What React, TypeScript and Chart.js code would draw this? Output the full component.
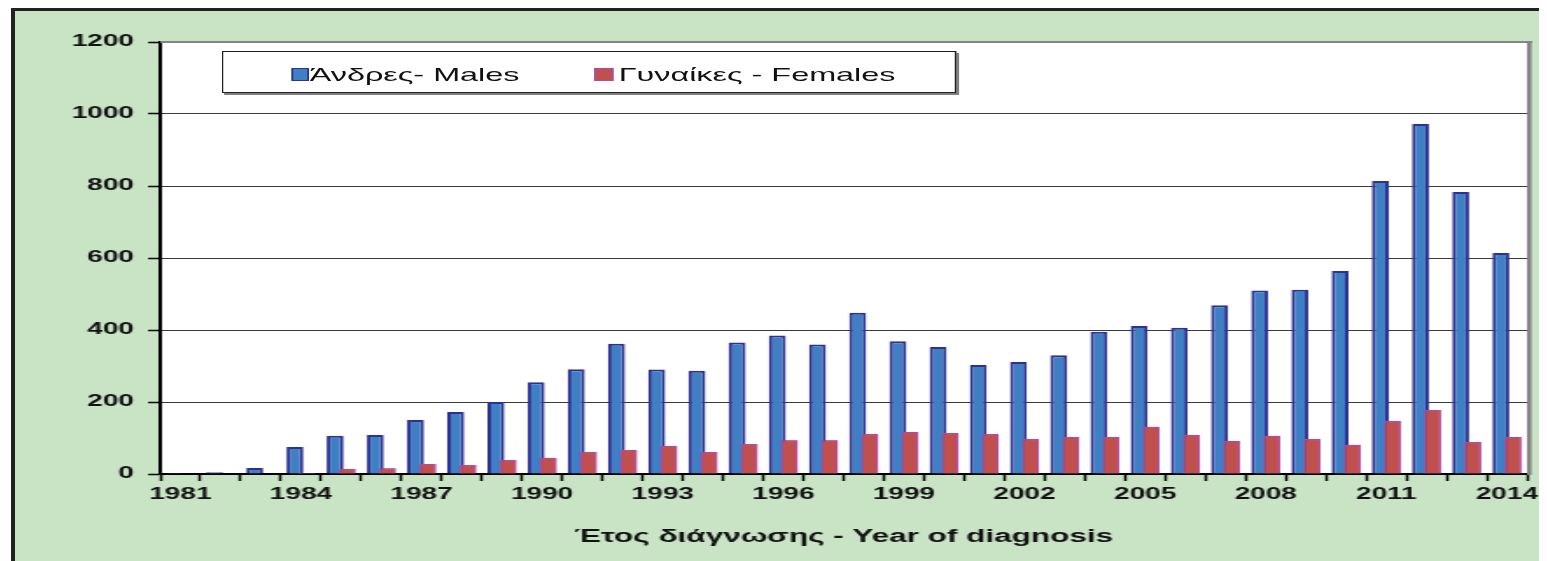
import React, { useEffect, useRef } from 'react';
import { Chart, registerables } from 'chart.js';

Chart.register(...registerables);

const years = [
  '1981', '1982', '1983', '1984', '1985', '1986', '1987', '1988', '1989', '1990',
  '1991', '1992', '1993', '1994', '1995', '1996', '1997', '1998', '1999', '2000',
  '2001', '2002', '2003', '2004', '2005', '2006', '2007', '2008', '2009', '2010',
  '2011', '2012', '2013', '2014',
];

const males = [
  3, 5, 17, 75, 106, 108, 150, 172, 200, 255,
  291, 362, 290, 287, 365, 385, 360, 448, 369, 353,
  303, 311, 330, 395, 411, 406, 469, 510, 512, 564,
  814, 972, 783, 614,
];

const females = [
  0, 0, 0, 3, 14, 16, 28, 25, 39, 45,
  61, 67, 78, 61, 83, 94, 94, 111, 117, 114,
  111, 97, 103, 103, 131, 108, 92, 106, 97, 81,
  147, 178, 89, 103,
];

const seriesLabels = ['Άνδρες- Males', 'Γυναίκες - Females'];
const xTitle = 'Έτος διάγνωσης - Year of diagnosis';
const yMin = 0;
const yMax = 1200;
const yStep = 200;
const labelEvery = 3;

const SX = 1.75;
const W = 880;
const H = 553;
const FONT = '"Liberation Sans", Arial, Helvetica, sans-serif';

const maleFill = '#3f7fc4';
const maleBorder = '#2e3192';
const femaleFill = '#c0504d';
const femaleBorder = '#b04aa8';

const framePlugin = {
  id: 'framePlugin',
  beforeDraw(chart: any) {
    const { ctx, chartArea: a } = chart;
    ctx.save();
    ctx.fillStyle = '#ffffff';
    ctx.fillRect(a.left, a.top, a.right - a.left, a.bottom - a.top);
    ctx.restore();
  },
  afterDatasetsDraw(chart: any) {
    const meta = chart.getDatasetMeta(1);
    if (meta && meta.controller) meta.controller.draw();
  },
  afterDraw(chart: any) {
    const { ctx, chartArea: a } = chart;
    ctx.save();
    ctx.strokeStyle = '#858585';
    ctx.lineWidth = 2;
    ctx.beginPath();
    ctx.moveTo(a.left, a.top);
    ctx.lineTo(a.right + 3, a.top);
    ctx.stroke();
    ctx.lineWidth = 2.6;
    ctx.beginPath();
    ctx.moveTo(a.right + 1.3, a.top);
    ctx.lineTo(a.right + 1.3, a.bottom + 1);
    ctx.stroke();
    ctx.restore();
  },
};

export default function App() {
  const canvasRef = useRef<HTMLCanvasElement | null>(null);

  useEffect(() => {
    if (!canvasRef.current) return;
    Chart.defaults.font.family = FONT;
    const chart = new Chart(canvasRef.current, {
      type: 'bar',
      data: {
        labels: years,
        datasets: [
          {
            label: seriesLabels[0],
            data: males,
            backgroundColor: maleFill,
            borderColor: maleBorder,
            borderWidth: 2,
          },
          {
            label: seriesLabels[1],
            data: females,
            backgroundColor: femaleFill,
            borderColor: femaleBorder,
            borderWidth: 1.2,
          },
        ],
      },
      options: {
        responsive: false,
        animation: false,
        events: [],
        datasets: {
          bar: {
            categoryPercentage: 0.6,
            barPercentage: 1.4,
          },
        },
        layout: { padding: { top: 34, right: 12, left: 0, bottom: 0 } },
        plugins: {
          legend: { display: false },
          tooltip: { enabled: false },
          title: { display: false },
        },
        scales: {
          x: {
            offset: true,
            afterFit: (scale: any) => {
              scale.height = 87;
            },
            border: { display: true, color: '#000000', width: 2 },
            grid: {
              display: true,
              offset: true,
              drawOnChartArea: false,
              drawTicks: true,
              tickLength: 7,
              tickWidth: 1.5,
              tickColor: '#000000',
            },
            title: {
              display: true,
              text: xTitle,
              color: '#111111',
              font: { family: FONT, size: 18, weight: 'bold' },
              padding: { top: 0, bottom: 13 },
            },
            ticks: {
              autoSkip: false,
              maxRotation: 0,
              minRotation: 0,
              padding: 4,
              color: '#111111',
              font: { family: FONT, size: 16, weight: 'bold' },
              callback: (_v: any, i: number) => (i % labelEvery === 0 ? years[i] : ''),
            },
          },
          y: {
            min: yMin,
            max: yMax,
            afterFit: (scale: any) => {
              scale.width = 87;
            },
            border: { display: true, color: '#000000', width: 2 },
            grid: {
              color: '#3a3a3a',
              lineWidth: 1,
              drawTicks: true,
              tickLength: 7,
              tickWidth: 1.5,
              tickColor: '#000000',
            },
            ticks: {
              stepSize: yStep,
              padding: 8,
              color: '#111111',
              font: { family: FONT, size: 16, weight: 'bold' },
              callback: (v: any) => String(v),
            },
          },
        },
      },
      plugins: [framePlugin],
    } as any);
    return () => chart.destroy();
  }, []);

  const legendSquare = (fill: string, border: string, left: number) => (
    <div
      style={{
        position: 'absolute',
        left,
        top: 15.7,
        width: 10.3,
        height: 13,
        boxSizing: 'border-box',
        background: fill,
        border: `1.5px solid ${border}`,
      }}
    />
  );

  const legendText = (text: string, left: number) => (
    <div
      style={{
        position: 'absolute',
        left,
        top: 12.5,
        height: 20,
        lineHeight: '20px',
        fontSize: 18.5,
        fontFamily: FONT,
        color: '#111111',
        whiteSpace: 'nowrap',
      }}
    >
      {text}
    </div>
  );

  return (
    <div style={{ position: 'relative', width: 1539, height: 553, overflow: 'hidden' }}>
      <div
        style={{
          position: 'absolute',
          left: 3,
          top: 0,
          right: 0,
          bottom: 0,
          borderTop: '3px solid #222222',
          borderLeft: '4px solid #222222',
          background: '#c8e4c5',
        }}
      />
      <div
        style={{
          position: 'absolute',
          left: 0,
          top: 0,
          width: W,
          height: H,
          transform: `scaleX(${SX})`,
          transformOrigin: '0 0',
        }}
      >
        <canvas
          ref={canvasRef}
          width={W}
          height={H}
          style={{ position: 'absolute', left: 0, top: 0, width: W, height: H }}
        />
        <div
          style={{
            position: 'absolute',
            left: 122.3,
            top: 43,
            width: 420,
            height: 42,
            boxSizing: 'border-box',
            background: '#ffffff',
            border: '1px solid #222222',
            boxShadow: '1.5px 2px 0 #808080',
          }}
        >
          {legendSquare(maleFill, maleBorder, 38.3)}
          {legendText(seriesLabels[0], 49.1)}
          {legendSquare(femaleFill, femaleBorder, 212)}
          {legendText(seriesLabels[1], 225.7)}
        </div>
      </div>
    </div>
  );
}
